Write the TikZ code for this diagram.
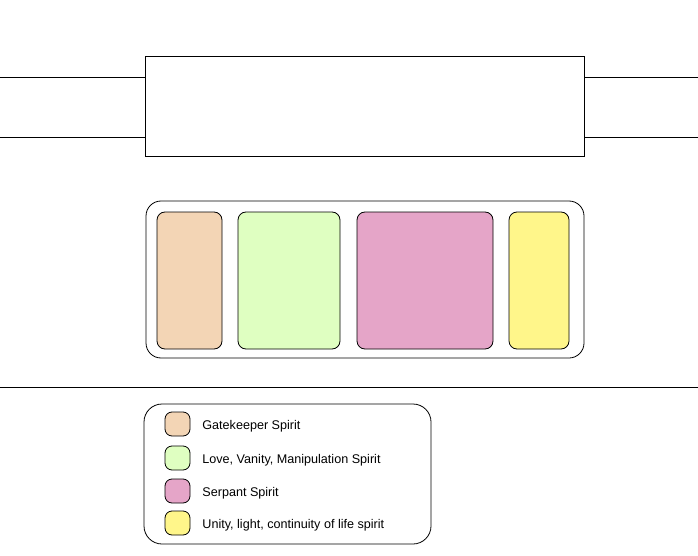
\documentclass[tikz,border=0pt]{standalone}
\usepackage{fontspec}
\setmainfont{Liberation Sans}
\definecolor{gatekeeper}{HTML}{F3D5B5}
\definecolor{vanity}{HTML}{DFFFC1}
\definecolor{serpant}{HTML}{E5A5C8}
\definecolor{unity}{HTML}{FFF68A}
\tikzset{
  spiritbox/.style={draw, rounded corners=8pt, line width=0.8pt, minimum height=137pt, inner sep=0pt},
  swatch/.style={draw, rounded corners=7pt, line width=0.8pt, minimum width=25pt, minimum height=24pt, inner sep=0pt},
  legendtext/.style={anchor=base west, inner sep=0pt, font=\fontsize{12.6}{14}\selectfont}
}
\begin{document}
\begin{tikzpicture}[x=1pt, y=-1pt, line width=0.8pt]
\useasboundingbox (0,0) rectangle (698,556);

% top block with its rails
\node[draw, rectangle, minimum width=439pt, minimum height=100pt, inner sep=0pt] (top) at (364.5,106) {};
\coordinate (lt) at (0,77);
\coordinate (lb) at (0,137);
\coordinate (rt) at (698,77);
\coordinate (rb) at (698,137);
\draw (lt) -- (lt -| top.west);
\draw (lb) -- (lb -| top.west);
\draw (top.east |- rt) -- (rt);
\draw (top.east |- rb) -- (rb);

% spirit row
\node[draw, rounded corners=15pt, minimum width=438pt, minimum height=157pt, inner sep=0pt] (row) at (365,279.5) {};
\node[spiritbox, fill=gatekeeper, minimum width=65pt] (gate) at (189.5,280.5) {};
\node[spiritbox, fill=vanity, minimum width=102pt] (love) at (289,280.5) {};
\node[spiritbox, fill=serpant, minimum width=136pt] (serp) at (425,280.5) {};
\node[spiritbox, fill=unity, minimum width=60pt] (unit) at (539,280.5) {};

% divider
\coordinate (dl) at (0,387);
\coordinate (dr) at (698,387);
\draw (dl) -- (dr);

% legend
\node[draw, rounded corners=18pt, minimum width=287pt, minimum height=140pt, inner sep=0pt] (legend) at (287.5,474) {};
\node[swatch, fill=gatekeeper] (k1) at (177.5,424) {};
\node[swatch, fill=vanity] (k2) at (177.5,458) {};
\node[swatch, fill=serpant] (k3) at (177.5,491) {};
\node[swatch, fill=unity] (k4) at (177.5,523) {};
\node[legendtext] (t1) at (202,429) {Gatekeeper Spirit};
\node[legendtext] (t2) at (202,463) {Love, Vanity, Manipulation Spirit};
\node[legendtext] (t3) at (202,496) {Serpant Spirit};
\node[legendtext] (t4) at (202,528) {Unity, light, continuity of life spirit};
\end{tikzpicture}
\end{document}
